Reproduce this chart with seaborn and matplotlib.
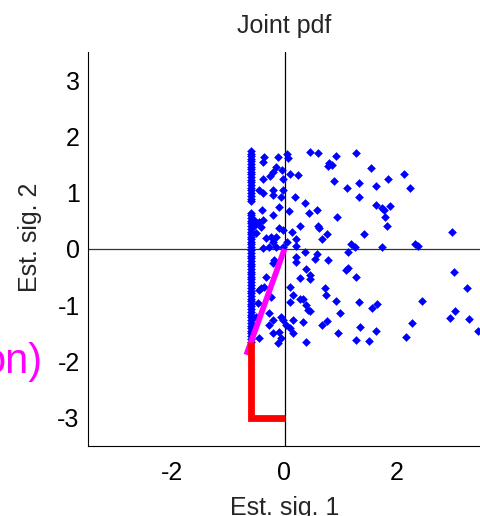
import matplotlib
matplotlib.use("Agg")
import matplotlib.pyplot as plt
import seaborn as sns
import pandas as pd

# Estimated signal 1 / signal 2 samples (scattered part)
sig1 = [1.28, 1.54, 2.13, 1.85, 1.33, 1.63, 2.24, 1.33, 1.63, 1.88, 1.73, 1.77,
        1.79, 1.83, 2.99, 1.42, 1.74, 2.32, 2.38, 1.25, 3.02, 1.27, 3.25, 1.33,
        2.45, 1.56, 1.65, 3.04, 2.95, 3.29, 2.27, 1.35, 1.63, 3.45, 1.28, 1.51,
        2.17,
        -0.36, -0.39, -0.11, 0.05, 0.06, 0.46, 0.60, 0.92, 0.80, 0.85, 0.77,
        -0.15, -0.04, -0.21, -0.25, 0.09, 0.24, -0.39, -0.03, 0.88, -0.45,
        -0.39, -0.20, -0.03, -0.21, -0.06, 0.19, 1.12, 0.37, -0.09, -0.40,
        0.08, 0.43, 0.58, -0.21, 0.94, -0.54, -0.45, -0.39, -0.52, -0.42,
        0.28, 0.59, 0.61, -0.09, -0.03, 0.13, -0.51, 0.76, -0.33, -0.24,
        -0.16, 0.21, 0.67, -0.21, 0.04, -0.03, -0.15, -0.27, 0.21, 1.18,
        -0.39, 0.36, 0.57, 0.55, 0.77, 1.13, 0.20, 0.20, -0.18, -0.21, 0.39,
        1.10, 1.13, 0.45, 0.45, 0.27, -0.33, 0.09, 0.73, 0.74, 0.15, 0.27,
        0.33, 0.91, 0.09, 0.39, 0.42, 0.45, -0.48, 0.98, -0.27, -0.21, -0.27,
        -0.06, -0.03, 0.15, 0.33, 0.67, 0.76, 0.03, 0.09, 0.15, -0.21, -0.09,
        -0.06, -0.12, -0.45, 0.38, 0.96, -0.36, -0.42, -0.45, -0.24, -0.50]
sig2 = [1.70, 1.44, 1.33, 1.24, 1.17, 1.12, 1.08, 0.92, 0.79, 0.76, 0.72, 0.70,
        0.56, 0.41, 0.31, 0.26, 0.04, 0.08, 0.05, 0.04, -0.40, -0.50, -0.70, -0.95,
        -0.92, -1.04, -0.98, -1.11, -1.22, -1.24, -1.31, -1.38, -1.45, -1.45, -1.61, -1.63,
        -1.56,
        1.64, 1.55, 1.63, 1.69, 1.61, 1.72, 1.70, 1.65, 1.52, 1.49, 1.48,
        1.45, 1.40, 1.36, 1.30, 1.33, 1.32, 1.24, 1.24, 1.20, 1.05,
        0.99, 1.05, 1.05, 0.96, 0.93, 0.92, 1.08, 0.81, 0.75, 0.69,
        0.68, 0.64, 0.69, 0.60, 0.57, 0.52, 0.48, 0.52, 0.43, 0.39,
        0.40, 0.40, 0.37, 0.37, 0.33, 0.31, 0.28, 0.26, 0.19, 0.21,
        0.22, 0.17, 0.17, 0.13, 0.13, 0.04, 0.03, 0.03, 0.05, 0.09,
        0.01, -0.06, -0.08, -0.17, -0.20, -0.06, -0.14, -0.23, -0.20, -0.25, -0.36,
        -0.37, -0.33, -0.47, -0.54, -0.52, -0.49, -0.67, -0.70, -0.82, -0.82, -0.88,
        -0.88, -0.92, -0.95, -0.99, -1.08, -1.11, -0.96, -1.14, -1.14, -1.26, -1.35,
        -1.20, -1.26, -1.26, -1.29, -1.35, -1.28, -1.35, -1.41, -1.50, -1.50, -1.48,
        -1.59, -1.67, -1.59, -1.65, -1.50, -0.67, -0.70, -0.73, -0.85, -1.20]

# Samples where signal 1 sits at its lower bound (dense column)
col_x = -0.60
col_y = [1.74, 1.69, 1.65, 1.60, 1.56, 1.51, 1.46, 1.42, 1.37, 1.33, 1.28,
         1.23, 1.19, 1.14, 1.09, 1.04, 0.99, 0.94, 0.89, 0.85,
         0.64, 0.60, 0.55, 0.50, 0.46, 0.41, 0.36, 0.31, 0.27, 0.22, 0.17,
         0.12, 0.08, 0.03, -0.02, -0.07, -0.12, -0.16, -0.21, -0.26, -0.31,
         -0.35, -0.40, -0.45, -0.50, -0.54, -0.59, -0.64, -0.69, -0.74, -0.78,
         -0.83, -0.88, -0.93, -0.97, -1.02, -1.07, -1.12, -1.17, -1.21, -1.26,
         -1.31, -1.36, -1.40, -1.45, -1.50, -1.55, -1.60, -1.65]

# Direction line (magenta) and corner guide (red)
dir_x = [0.0, -0.68]
dir_y = [0.0, -1.88]
corner_x = [-0.595, -0.595, 0.0]
corner_y = [-1.66, -3.0, -3.0]

xticks = [-2, 0, 2]
yticks = [-3, -2, -1, 0, 1, 2, 3]

df = pd.DataFrame({
    "s1": sig1 + [col_x] * len(col_y),
    "s2": sig2 + col_y,
})

sns.set_style("white")
plt.rcParams["font.family"] = ["Liberation Sans", "DejaVu Sans"]

fig = plt.figure(figsize=(4.8, 5.16), dpi=100)
ax = fig.add_axes([88 / 480, 1 - 446 / 516, 393 / 480, 394 / 516])

ax.axhline(0, color="#333333", lw=0.9, zorder=1)
ax.axvline(0, color="black", lw=0.9, zorder=1)

sns.scatterplot(data=df, x="s1", y="s2", marker="D", s=16, color="blue",
                edgecolor="blue", linewidth=0.4, ax=ax, zorder=2)

ax.plot(dir_x, dir_y, color="magenta", lw=4.1, solid_capstyle="butt", zorder=3)
ax.plot(corner_x, corner_y, color="red", lw=4.9, solid_capstyle="butt",
        solid_joinstyle="miter", zorder=4)

ax.set_xlim(-3.5, 3.5)
ax.set_ylim(-3.5, 3.5)
ax.set_xticks(xticks)
ax.set_yticks(yticks)
ax.set_xticklabels([str(t) for t in xticks])
ax.set_yticklabels([str(t) for t in yticks])
ax.tick_params(axis="both", direction="in", length=3.5, width=0.8,
               labelsize=18, colors="black")
ax.tick_params(axis="x", pad=11)
ax.tick_params(axis="y", pad=6)

for side in ("top", "right"):
    ax.spines[side].set_visible(False)
for side in ("left", "bottom"):
    ax.spines[side].set_color("black")
    ax.spines[side].set_linewidth(0.8)

ax.set_title("Joint pdf", fontsize=18, pad=13.5)
ax.set_xlabel("Est. sig. 1", fontsize=18, labelpad=8)
ax.set_ylabel("Est. sig. 2", fontsize=18)
ax.yaxis.set_label_coords(-0.117, 0.53)

fig.text(42 / 480, 1 - 373 / 516, "on)", ha="right", va="baseline",
         fontsize=30, color="magenta")

fig.savefig("out.png", dpi=100)
